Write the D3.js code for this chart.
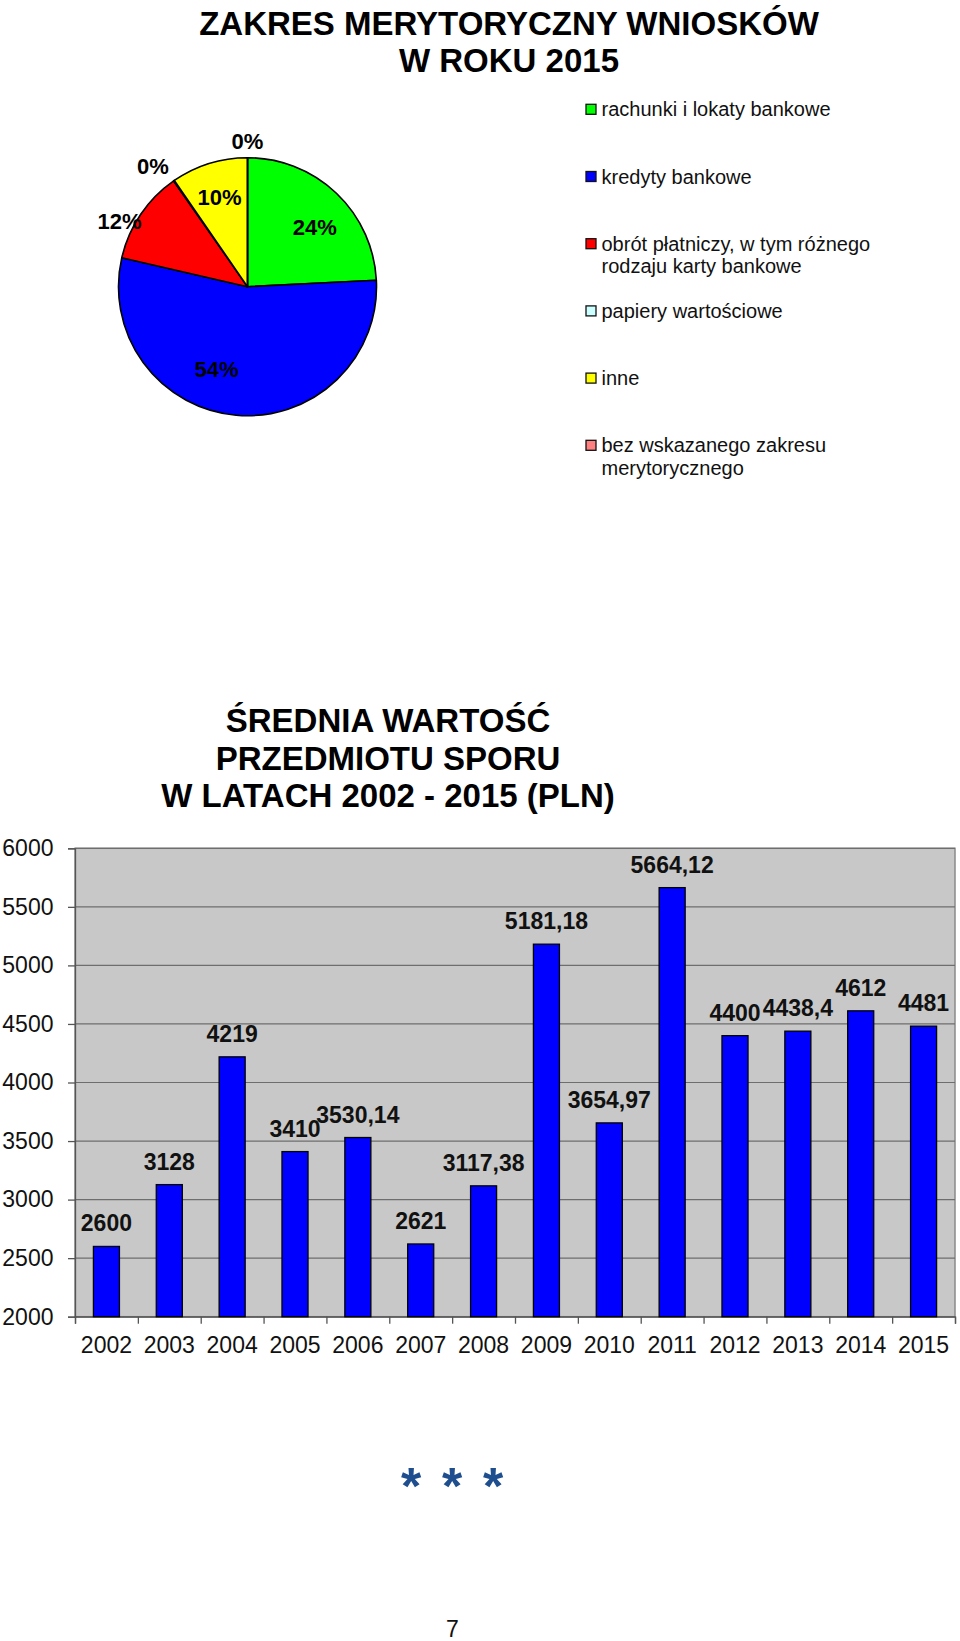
<html lang="pl">

<head>
    <meta charset="UTF-8">
    <title>Zakres merytoryczny wniosków / średnia wartość przedmiotu sporu</title>
    <style>
        body { margin: 0; background: #fff; }
        text { font-family: "Liberation Sans", Arial, sans-serif; }
    </style>
</head>

<body>
    <script src="https://d3js.org/d3.v7.min.js"></script>
    <script>

        // ---- data: pie ----
        const pieTitle = ["ZAKRES MERYTORYCZNY WNIOSKÓW", "W ROKU 2015"];
        const pieCategories = [
            "rachunki i lokaty bankowe",
            "kredyty bankowe",
            "obrót płatniczy, w tym różnego rodzaju karty bankowe",
            "papiery wartościowe",
            "inne",
            "bez wskazanego zakresu merytorycznego"
        ];
        const pieValues = [24.2, 54.4, 11.7, 0.1, 9.6, 0];

        // ---- data: bars ----
        const barTitle = ["ŚREDNIA WARTOŚĆ", "PRZEDMIOTU SPORU", "W LATACH 2002 - 2015 (PLN)"];
        const years = ["2002", "2003", "2004", "2005", "2006", "2007", "2008", "2009", "2010", "2011", "2012", "2013", "2014", "2015"];
        const values = [2600, 3128, 4219, 3410, 3530.14, 2621, 3117.38, 5181.18, 3654.97, 5664.12, 4400, 4438.4, 4612, 4481];
        const yTicks = [2000, 2500, 3000, 3500, 4000, 4500, 5000, 5500, 6000];

        // styles
        const pieColors = ["#00ff00", "#0000ff", "#ff0000", "#ccffff", "#ffff00", "#ff8080"];
        // label placement: radius and angle nudge (deg) per slice
        const labelPlace = [[90, 4.8], [88, 15.5], [144, -6.8], [153, -3.5], [94, 0], [146, 0]];

        const w = 960, h = 1641;

        const svg = d3.select("body")
            .append("svg")
            .attr("width", w)
            .attr("height", h);

        // titles
        function title(lines, cx, baselines, size) {
            lines.forEach((t, i) => {
                svg.append("text")
                    .attr("x", cx)
                    .attr("y", baselines[i])
                    .attr("text-anchor", "middle")
                    .style("font-size", size + "px")
                    .style("font-weight", "bold")
                    .text(t);
            });
        }

        title(pieTitle, 509, [34.5, 72], 33);

        //pie
        const pcx = 247.5, pcy = 286.7, r = 129;
        const pie = d3.pie().sort(null).value(d => d);
        const arcs = pie(pieValues);
        const arc = d3.arc().innerRadius(0).outerRadius(r);

        const pg = svg.append("g").attr("transform", "translate(" + pcx + "," + pcy + ")");
        pg.selectAll("path")
            .data(arcs)
            .enter()
            .append("path")
            .attr("d", arc)
            .attr("fill", (d, i) => pieColors[i])
            .attr("stroke", "#000")
            .attr("stroke-width", 1.6)
            .attr("stroke-linejoin", "round");

        pg.selectAll("text")
            .data(arcs)
            .enter()
            .append("text")
            .attr("x", (d, i) => {
                const a = (d.startAngle + d.endAngle) / 2 + labelPlace[i][1] * Math.PI / 180;
                return labelPlace[i][0] * Math.sin(a);
            })
            .attr("y", (d, i) => {
                const a = (d.startAngle + d.endAngle) / 2 + labelPlace[i][1] * Math.PI / 180;
                return -labelPlace[i][0] * Math.cos(a);
            })
            .attr("dy", "0.36em")
            .attr("text-anchor", "middle")
            .style("font-size", "22px")
            .style("font-weight", "bold")
            .text(d => Math.round(d.value) + "%");

        //legend
        const legend = svg.append("g");
        pieCategories.forEach((c, i) => {
            const yc = 109.3 + i * 67.2;
            legend.append("rect")
                .attr("x", 586).attr("y", yc - 5)
                .attr("width", 10).attr("height", 10)
                .attr("fill", pieColors[i])
                .attr("stroke", "#111")
                .attr("stroke-width", 1.3);
            const t = legend.append("text")
                .attr("x", 601.5)
                .attr("y", yc + 7)
                .style("font-size", "20px")
                .style("fill", "#111");
            // wrap long names
            const words = c.split(" ");
            let line = [], tspan = t.append("tspan").attr("x", 601.5);
            words.forEach(wd => {
                line.push(wd);
                tspan.text(line.join(" "));
                if (tspan.node().getComputedTextLength() > 280 && line.length > 1) {
                    line.pop();
                    tspan.text(line.join(" "));
                    line = [wd];
                    tspan = t.append("tspan").attr("x", 601.5).attr("dy", 22.7).text(wd);
                }
            });
        });

        // ---- bar chart ----
        title(barTitle, 388, [732, 769.5, 807], 33);

        const plotLeft = 75, plotRight = 955, plotTop = 848.3, plotBottom = 1316.7;

        const xScale = d3.scaleBand()
            .domain(years)
            .range([plotLeft, plotRight])
            .paddingInner(0.586)
            .paddingOuter(0.293);

        const xEdge = d3.scaleLinear()
            .domain([0, years.length])
            .range([plotLeft, plotRight]);

        const yScale = d3.scaleLinear()
            .domain([2000, 6000])
            .range([plotBottom, plotTop]);

        svg.append("rect")
            .attr("x", plotLeft).attr("y", plotTop)
            .attr("width", plotRight - plotLeft).attr("height", plotBottom - plotTop)
            .attr("fill", "#c8c8c8")
            .attr("stroke", "#8a8a8a")
            .attr("stroke-width", 1.5);

        //grid
        svg.append("g")
            .selectAll("line")
            .data(yTicks)
            .enter()
            .append("line")
            .attr("x1", plotLeft).attr("x2", plotRight)
            .attr("y1", d => yScale(d)).attr("y2", d => yScale(d))
            .attr("stroke", "#6e6e6e")
            .attr("stroke-width", 1.2);

        //y axis
        const yAxis = d3.axisLeft(yScale)
            .tickValues(yTicks)
            .tickFormat(d3.format("d"))
            .tickSize(7)
            .tickPadding(14.5);

        const yg = svg.append("g")
            .attr("transform", "translate(" + plotLeft + ",0)")
            .call(yAxis);
        yg.selectAll("text").style("font-size", "23px").style("fill", "#111").style("font-family", "Liberation Sans, Arial, sans-serif");
        yg.selectAll("line, path").attr("stroke", "#555").attr("stroke-width", 1.3);

        //x axis: ticks between categories
        const xg = svg.append("g")
            .attr("transform", "translate(0," + plotBottom + ")")
            .call(d3.axisBottom(xEdge).ticks(years.length).tickSize(7).tickFormat(""));
        xg.selectAll("line, path").attr("stroke", "#555").attr("stroke-width", 1.3);

        const xl = svg.append("g")
            .attr("transform", "translate(0," + plotBottom + ")")
            .call(d3.axisBottom(xScale).tickSize(0).tickPadding(20));
        xl.select(".domain").remove();
        xl.selectAll("text").style("font-size", "23px").style("fill", "#111").style("font-family", "Liberation Sans, Arial, sans-serif");

        //bars
        svg.selectAll(".bar")
            .data(values)
            .enter()
            .append("rect")
            .attr("class", "bar")
            .attr("x", (d, i) => xScale(years[i]))
            .attr("y", d => yScale(d))
            .attr("width", xScale.bandwidth())
            .attr("height", d => plotBottom - yScale(d))
            .attr("fill", "#0000ff")
            .attr("stroke", "#000")
            .attr("stroke-width", 1.3);

        //value labels
        svg.selectAll(".val")
            .data(values)
            .enter()
            .append("text")
            .attr("class", "val")
            .attr("x", (d, i) => xScale(years[i]) + xScale.bandwidth() / 2)
            .attr("y", d => yScale(d) - 15)
            .attr("text-anchor", "middle")
            .style("font-size", "23px")
            .style("font-weight", "bold")
            .style("fill", "#111")
            .text(d => String(d).replace(".", ","));

        // asterisks and page number
        svg.selectAll(".star")
            .data([0, 1, 2])
            .enter()
            .append("text")
            .attr("class", "star")
            .attr("x", d => 452 + (d - 1) * 41)
            .attr("y", 1504)
            .attr("text-anchor", "middle")
            .style("font-size", "52px")
            .style("font-weight", "bold")
            .style("fill", "#1f4e8f")
            .text("*");

        svg.append("text")
            .attr("x", 452.5)
            .attr("y", 1637)
            .attr("text-anchor", "middle")
            .style("font-size", "23px")
            .style("fill", "#111")
            .text("7");

    </script>
</body>

</html>
